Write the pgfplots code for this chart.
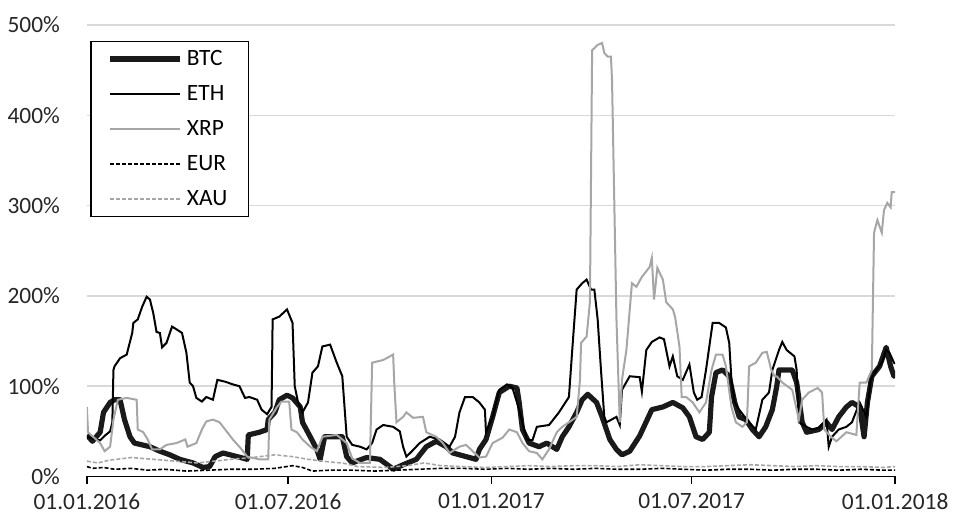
\documentclass[border=0pt]{standalone}
\usepackage{fontspec}
\setmainfont{Carlito}
\usepackage{pgfplots}
\usepackage{pgfplotstable}
\pgfplotsset{compat=1.18}
\definecolor{gridc}{HTML}{D9D9D9}
\definecolor{xrpc}{HTML}{A6A6A6}
\definecolor{txtc}{HTML}{262626}
\definecolor{btcc}{HTML}{1A1A1A}

\pgfplotstableread{
d v
0 46
5 39
12 49
15 71
21 82
25 85
30 85
34 63
39 44
43 37
57 33
66 28
75 24
84 19
96 15
105 10
111 11
116 22
123 26
136 22
145 19
146 46
156 49
163 52
164 63
170 71
174 85
181 90
186 87
193 77
195 60
202 44
208 30
211 19
215 44
231 44
235 22
240 15
244 17
253 21
265 19
274 11
277 8
286 13
298 19
307 33
316 39
325 33
331 26
343 22
352 19
355 30
361 41
367 66
373 93
382 100
389 98
391 82
394 52
400 37
409 33
416 37
425 30
430 44
436 55
443 71
448 85
453 91
461 82
466 66
473 41
479 30
484 24
491 28
500 45
511 74
521 77
530 82
539 76
545 66
551 44
557 41
563 49
565 88
569 115
575 118
581 111
586 82
590 66
596 63
602 52
608 44
614 55
620 74
624 100
626 118
638 118
642 104
647 60
651 49
662 52
669 60
674 52
680 66
687 77
692 82
699 77
703 44
706 82
710 111
717 122
723 143
727 122
730 111
731 115
}\btc

\pgfplotstableread{
d v
0 44
5 42
12 40
16 45
21 50
23 60
24 118
25 122
30 131
36 135
41 159
42 170
46 174
50 188
54 199
57 196
60 181
63 160
66 159
68 143
72 148
77 166
81 163
86 159
90 137
93 104
96 100
99 87
104 83
108 88
114 85
118 107
125 105
132 102
138 100
143 87
147 88
154 85
158 74
163 69
167 77
168 174
174 177
181 185
183 179
186 170
188 100
191 82
195 71
200 82
204 115
209 122
213 144
220 146
226 126
231 111
235 44
240 35
247 33
253 30
258 37
262 52
268 57
277 55
283 50
286 33
289 22
294 28
301 37
310 44
319 41
328 33
333 44
337 71
342 88
349 88
355 82
360 74
361 49
367 66
373 96
380 102
385 98
391 74
398 41
403 40
407 55
418 57
427 71
436 88
439 140
443 207
448 214
452 218
456 207
459 207
462 174
465 118
468 66
470 60
479 66
482 57
484 96
491 111
500 110
502 94
506 140
511 149
518 154
522 152
527 122
530 133
534 111
539 107
545 124
549 93
552 85
556 88
560 118
566 170
572 170
578 165
581 148
583 107
586 82
590 74
595 66
599 60
605 52
611 85
617 93
620 118
626 140
629 149
633 140
640 133
642 118
644 60
651 55
656 52
662 54
669 63
671 33
674 44
680 52
687 55
692 60
699 82
705 66
709 107
714 118
719 126
723 140
726 137
730 126
731 125
}\eth

\pgfplotstableread{
d v
0 77
1 49
12 37
16 28
21 33
24 63
28 85
36 87
45 85
46 52
51 49
55 41
59 30
66 30
72 35
81 37
89 41
91 33
99 37
104 52
108 61
114 63
120 60
127 49
132 41
140 30
145 22
156 19
164 19
165 63
172 77
176 83
183 83
185 52
190 49
195 41
202 33
208 28
213 44
226 46
235 37
240 20
247 15
256 15
258 126
268 129
274 133
277 135
278 104
280 60
286 66
289 71
295 65
304 66
307 49
316 44
322 37
328 26
337 33
343 35
355 21
361 22
367 37
376 43
382 52
389 49
394 37
400 28
407 26
412 19
418 30
425 49
430 55
436 60
443 66
446 107
447 148
452 155
455 193
457 472
462 478
466 480
468 469
471 465
474 465
475 439
479 174
482 60
484 107
488 140
493 214
497 210
502 221
509 232
511 242
513 196
516 231
521 218
524 193
530 185
532 177
536 144
538 88
542 88
548 82
554 71
560 82
565 118
569 135
575 135
578 122
583 77
587 60
593 55
597 60
599 122
605 126
611 137
615 138
619 118
622 111
624 111
629 104
638 96
644 63
647 85
653 93
661 98
665 93
667 52
673 44
678 39
687 49
696 46
699 104
705 104
710 118
712 270
715 284
719 270
721 295
724 303
727 298
728 315
731 315
}\xrp

\pgfplotstableread{
d v
0 11
5 9
15 10
25 8
40 9
55 7
70 8
90 6
110 7
130 8
150 8
170 9
186 12
195 10
204 6
220 7
240 7
260 6
280 7
300 8
320 9
340 9
360 8
380 9
400 8
420 9
440 8
460 9
480 8
500 8
520 9
540 8
560 7
580 8
600 8
620 7
640 8
660 8
680 7
700 8
720 7
731 7
}\eur

\pgfplotstableread{
d v
0 17
10 15
20 18
40 21
60 19
80 17
100 15
115 17
130 19
150 21
170 24
186 22
200 19
220 16
231 15
245 11
270 10
290 12
305 15
320 12
340 11
360 10
380 11
400 12
420 11
440 12
460 12
480 11
500 13
520 12
540 11
560 11
580 12
600 13
620 12
640 11
660 12
680 11
700 11
720 10
731 11
}\xau

\begin{document}
\begin{tikzpicture}
\begin{axis}[
  scale only axis, width=404.5pt, height=226pt,
  xmin=0, xmax=731, ymin=0, ymax=500,
  axis x line*=bottom, axis y line*=left,
  y axis line style={draw=none},
  x axis line style={black, line width=0.75pt, -},
  xtick={0,182,366,547,731},
  xticklabels={01.01.2016,01.07.2016,01.01.2017,01.07.2017,01.01.2018},
  ytick={0,100,200,300,400,500},
  yticklabels={0\%,100\%,200\%,300\%,400\%,500\%},
  ymajorgrids, grid style={gridc, line width=0.75pt},
  tick align=outside, major tick length=4pt,
  xtick style={black, line width=0.75pt},
  ytick style={draw=none},
  tick label style={font=\fontsize{11.7}{13}\selectfont, text=txtc},
  yticklabel style={xshift=-6pt},
  xticklabel style={yshift=-1pt},
  legend style={at={(0.004,0.965)}, anchor=north west, draw=black, line width=0.75pt,
    font=\fontsize{11.7}{13}\selectfont, text=black, row sep=0pt, inner xsep=8.5pt, inner ysep=0pt},
  legend cell align=left,
  legend style={nodes={text height=9.2pt, text depth=2.3pt, inner ysep=3pt}},
  legend image code/.code={\draw[#1] (0pt,0pt) -- (35pt,0pt);},
]
\addplot[btcc, line width=2.6pt, line join=round] table[x=d,y=v] {\btc};
\addlegendentry{BTC}
\addplot[black, line width=1pt] table[x=d,y=v] {\eth};
\addlegendentry{ETH}
\addplot[xrpc, line width=1pt] table[x=d,y=v] {\xrp};
\addlegendentry{XRP}
\addplot[black, line width=0.8pt, dash pattern=on 2pt off 1pt] table[x=d,y=v] {\eur};
\addlegendentry{EUR}
\addplot[xrpc, line width=0.8pt, dash pattern=on 2pt off 1pt] table[x=d,y=v] {\xau};
\addlegendentry{XAU}
\end{axis}
\path ([shift={(-43.5pt,-20.5pt)}]current axis.south west) rectangle ([shift={(29.5pt,12.5pt)}]current axis.north east);
\end{tikzpicture}
\end{document}
